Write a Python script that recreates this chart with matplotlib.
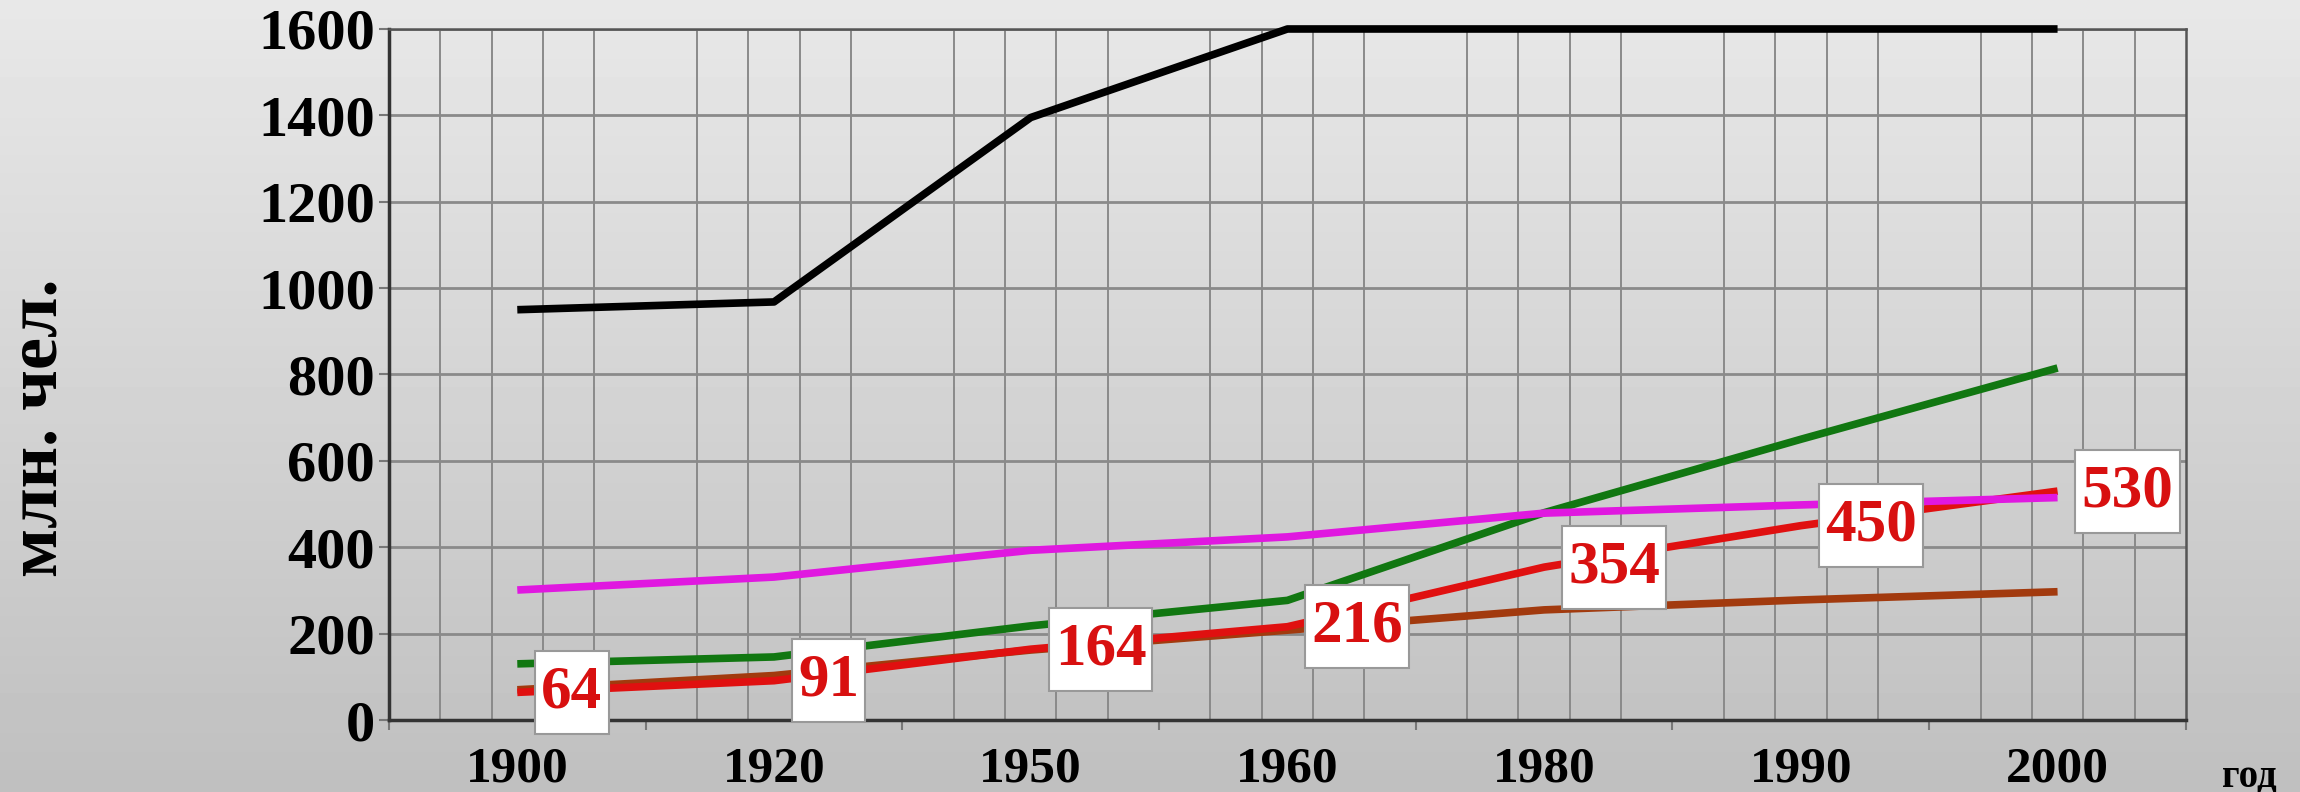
import numpy as np
import matplotlib
matplotlib.use("Agg")
import matplotlib.pyplot as plt
from matplotlib.path import Path

years = ['1900', '1920', '1950', '1960', '1980', '1990', '2000']
black_vals = [950, 968, 1395, 1600, 1600, 1600, 1600]
green_vals = [130, 146, 218, 277, 480, 650, 815]
magenta_vals = [301, 331, 393, 424, 479, 498, 515]
red_vals = [64, 91, 164, 216, 354, 450, 530]
brown_vals = [70, 103, 162, 208, 255, 278, 297]
red_labels = ['64', '91', '164', '216', '354', '450', '530']
yticks = [0, 200, 400, 600, 800, 1000, 1200, 1400, 1600]

plt.rcParams['font.family'] = ['Liberation Serif', 'DejaVu Serif']
plt.rcParams['font.weight'] = 'bold'


def tall_box(x0, y0, width, height, mutation_size):
    padx = 0.10 * mutation_size
    pady = 0.22 * mutation_size
    x1, y1 = x0 + width + padx, y0 + height + pady
    x0, y0 = x0 - padx, y0 - pady
    return Path([(x0, y0), (x1, y0), (x1, y1), (x0, y1), (x0, y0)],
                [Path.MOVETO, Path.LINETO, Path.LINETO, Path.LINETO, Path.CLOSEPOLY])


fig = plt.figure(figsize=(23, 7.92), dpi=100)

# background gradient
bg = fig.add_axes([0, 0, 1, 1], zorder=-10)
grad = np.linspace(0.91, 0.75, 256).reshape(-1, 1)
bg.imshow(grad, aspect='auto', cmap='gray', vmin=0, vmax=1, extent=[0, 1, 0, 1])
bg.set_axis_off()

ax = fig.add_axes([0.1691, 0.0909, 0.9504 - 0.1691, 0.9634 - 0.0909])
ax.patch.set_alpha(0)
x = np.arange(len(years))
ax.set_xlim(-0.5, len(years) - 0.5)
ax.set_ylim(0, 1600)

# vertical grid (minor divisions, not at category boundaries)
for k in range(1, 5 * len(years)):
    if k % 5 != 0:
        ax.axvline(-0.5 + k * 0.2, color='#8a8a8a', lw=1.4, zorder=1)
ax.set_yticks(yticks)
ax.yaxis.grid(True, color='#8a8a8a', lw=2.0, zorder=1)
ax.set_axisbelow(True)

ax.plot(x, brown_vals, color='#a23a0e', lw=5.5, solid_capstyle='butt', zorder=3)
ax.plot(x, red_vals, color='#e01010', lw=5.5, solid_capstyle='butt', zorder=3)
ax.plot(x, green_vals, color='#117711', lw=5.5, solid_capstyle='butt', zorder=3)
ax.plot(x, magenta_vals, color='#e018e0', lw=5.5, solid_capstyle='butt', zorder=3)
ax.plot(x, black_vals, color='black', lw=5.5, solid_capstyle='butt', zorder=4, clip_on=False)

for xi, v, lab in zip(x, red_vals, red_labels):
    ax.annotate(lab, (xi, v), xytext=(24, 0), textcoords='offset pixels',
                ha='left', va='center', color='#d81010', fontsize=44, fontweight='bold',
                bbox=dict(boxstyle=tall_box, fc='white', ec='#999999', lw=1.5),
                zorder=6)

ax.set_xticks(x)
ax.set_xticklabels(years, fontsize=37, fontweight='bold')
ax.set_xticks(np.arange(len(years) + 1) - 0.5, minor=True)
ax.tick_params(axis='x', which='major', length=0, pad=19)
ax.tick_params(axis='x', which='minor', length=7, width=1.5, color='#777777', direction='out')
ax.set_yticklabels([str(t) for t in yticks], fontsize=42, fontweight='bold')
ax.tick_params(axis='y', which='major', length=7, width=1.5, color='#777777', pad=3)

for side in ['left', 'bottom']:
    ax.spines[side].set_color('#333333')
    ax.spines[side].set_linewidth(2.5)
for side in ['right', 'top']:
    ax.spines[side].set_color('#555555')
    ax.spines[side].set_linewidth(1.8)

fig.text(0.017, 0.46, 'млн. чел.', rotation=90, ha='center', va='center',
         fontsize=52, fontweight='bold')
fig.text(0.978, 0.006, 'год', ha='center', va='baseline', fontsize=28, fontweight='bold')

fig.savefig('out.png', dpi=100)
